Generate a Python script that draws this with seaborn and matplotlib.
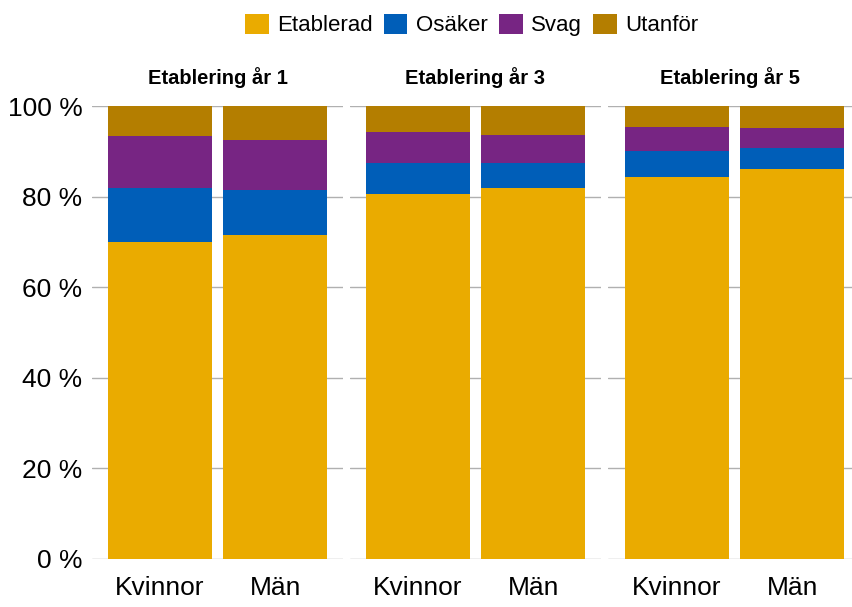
import numpy as np
import pandas as pd
import seaborn as sns
import matplotlib.pyplot as plt
from matplotlib.patches import Patch

# Data (percent)
panels = ["Etablering år 1", "Etablering år 3", "Etablering år 5"]
genders = ["Kvinnor", "Män"]
categories = ["Etablerad", "Osäker", "Svag", "Utanför"]
colors = ["#EAAB00", "#005EB8", "#772583", "#B47E00"]

etablerad = [70.0, 71.6, 80.6, 81.8, 84.4, 86.2]
osaker = [11.9, 9.9, 6.8, 5.6, 5.7, 4.6]
svag = [11.5, 11.1, 6.9, 6.2, 5.3, 4.4]
utanfor = [6.6, 7.4, 5.7, 6.4, 4.6, 4.8]

rows = []
for i, p in enumerate(panels):
    for j, g in enumerate(genders):
        k = i * 2 + j
        rows.append({"panel": p, "kon": g, "Etablerad": etablerad[k], "Osäker": osaker[k],
                     "Svag": svag[k], "Utanför": utanfor[k]})
df = pd.DataFrame(rows)
# cumulative sums for stacked bars drawn back to front
cum = df[categories].cumsum(axis=1)
for c in categories:
    df["cum_" + c] = cum[c]

sns.set_style("white")
plt.rcParams['font.family'] = ['Liberation Sans', 'DejaVu Sans']
plt.rcParams['text.color'] = 'black'
plt.rcParams['xtick.color'] = 'black'
plt.rcParams['ytick.color'] = 'black'

W, H = 852, 607
fig = plt.figure(figsize=(W / 100, H / 100), dpi=100)

# panel positions in pixels (left, right)
boxes = [(92, 343), (350, 601), (608, 852)]
xlims = [(-0.59, 1.59), (-0.59, 1.59), (-0.6, 1.52)]
top_px, bot_px = 106, 559

for i, p in enumerate(panels):
    l, r = boxes[i]
    ax = fig.add_axes([l / W, (H - bot_px) / H, (r - l) / W, (bot_px - top_px) / H])
    sub = df[df["panel"] == p]
    for c, col in reversed(list(zip(categories, colors))):
        sns.barplot(data=sub, x="kon", y="cum_" + c, order=genders, color=col,
                    saturation=1, width=0.904, ax=ax, linewidth=0, zorder=2)
    ax.set_xlim(*xlims[i])
    ax.set_ylim(0, 100)
    ax.set_yticks(np.arange(0, 101, 20))
    ax.yaxis.grid(True, color="#b0b0b0", linewidth=1.0, zorder=0)
    ax.set_axisbelow(True)
    for s in ax.spines.values():
        s.set_visible(False)
    ax.set_xlabel("")
    ax.set_ylabel("")
    ax.tick_params(axis="x", length=0, labelsize=19, pad=12)
    if i == 0:
        ax.set_yticklabels([f"{v} %" for v in range(0, 101, 20)])
        ax.tick_params(axis="y", length=0, labelsize=19, pad=7)
    else:
        ax.tick_params(axis="y", length=0, labelleft=False)
    ax.set_title(p, fontsize=14.5, fontweight="bold", pad=16, color="black")

handles = [Patch(facecolor=c, edgecolor="none", label=n) for n, c in zip(categories, colors)]
fig.legend(handles=handles, loc="center", bbox_to_anchor=(472 / W, 1 - 25 / H), ncol=4,
           frameon=False, fontsize=16, handlelength=1.05, handleheight=1.05,
           handletextpad=0.4, columnspacing=0.5, borderaxespad=0)

plt.savefig("out.png", dpi=100)
